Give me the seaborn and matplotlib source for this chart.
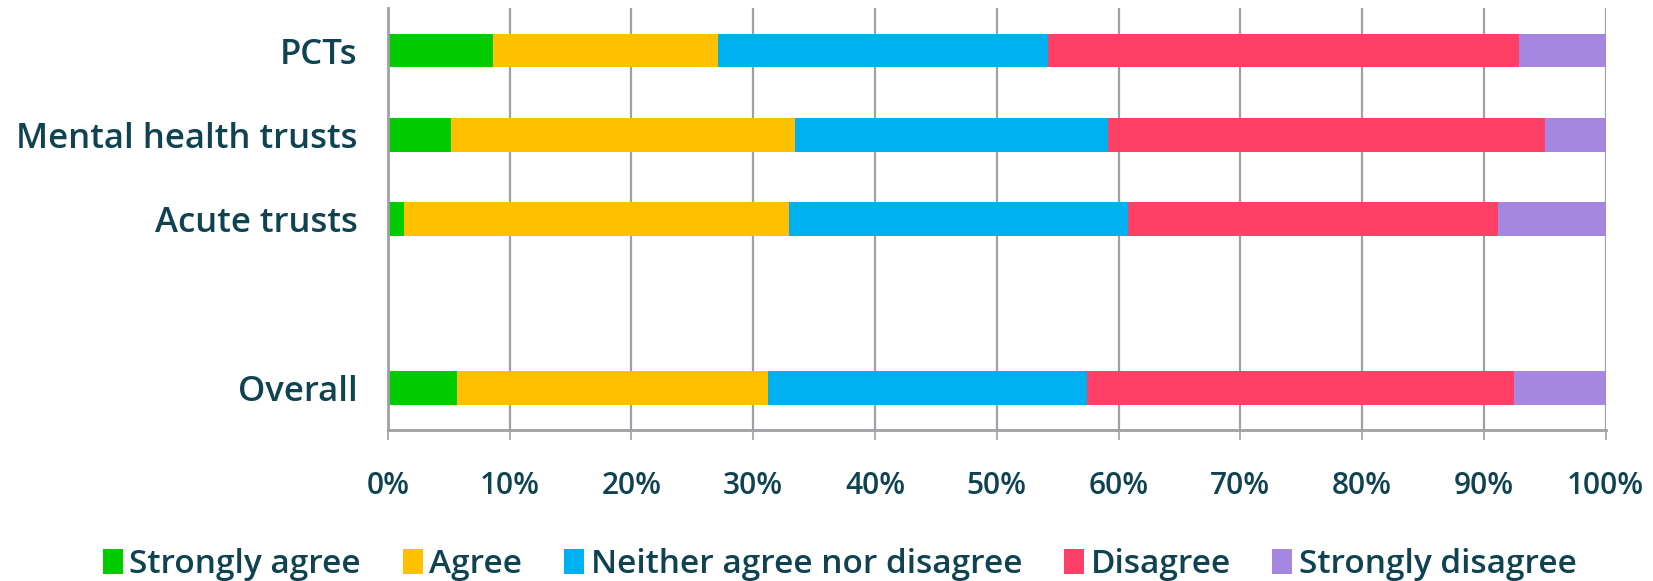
import matplotlib
matplotlib.use("Agg")
import matplotlib.pyplot as plt
import seaborn as sns
import pandas as pd
import numpy as np
from matplotlib.patches import Patch
from matplotlib.ticker import FixedLocator

categories = ["PCTs", "Mental health trusts", "Acute trusts", "Overall"]
order = ["PCTs", "Mental health trusts", "Acute trusts", " ", "Overall"]
series = ["Strongly agree", "Agree", "Neither agree nor disagree", "Disagree", "Strongly disagree"]
strongly_agree = [8.6, 5.2, 1.3, 5.7]
agree = [18.5, 28.2, 31.6, 25.5]
neither = [27.1, 25.7, 27.9, 26.2]
disagree = [38.7, 35.9, 30.4, 35.1]
strongly_disagree = [7.1, 5.0, 8.8, 7.5]
colors = ["#00CC00", "#FFC000", "#00B0F0", "#FF4066", "#A586E0"]
xticklabels = ["0%", "10%", "20%", "30%", "40%", "50%", "60%", "70%", "80%", "90%", "100%"]

text_color = "#0F4352"
grid_color = "#9EA1A4"

sns.set_style("white")
plt.rcParams["font.family"] = ["Open Sans", "DejaVu Sans"]
plt.rcParams["font.weight"] = "semibold"

df = pd.DataFrame({
    "cat": categories,
    "Strongly agree": strongly_agree,
    "Agree": agree,
    "Neither agree nor disagree": neither,
    "Disagree": disagree,
    "Strongly disagree": strongly_disagree,
})
cum = df[series].cumsum(axis=1)
cum["cat"] = df["cat"]

fig = plt.figure(figsize=(16.53, 5.81), dpi=100)
ax = fig.add_axes([0.2347, 0.260, 0.9713 - 0.2347, 0.9855 - 0.260])

for s, c in reversed(list(zip(series, colors))):
    sns.barplot(data=cum, x=s, y="cat", order=order, orient="h", color=c,
                width=0.4, saturation=1, ax=ax, zorder=2, linewidth=0)

ax.set_xlim(0, 100)
ax.set_ylim(4.5, -0.5)
ax.set_xlabel("")
ax.set_ylabel("")
ax.set_xticks(np.arange(0, 101, 10))
ax.set_xticklabels(xticklabels)
ax.xaxis.grid(True, color=grid_color, linewidth=1.6, zorder=0)
ax.yaxis.grid(False)
ax.set_axisbelow(True)

ax.yaxis.set_minor_locator(FixedLocator(np.arange(-0.5, 4.6, 1.0)))
ax.tick_params(axis="y", which="major", length=0, pad=22, labelsize=25, labelcolor=text_color)
ax.tick_params(axis="y", which="minor", length=7.5, width=1.6, color=grid_color, direction="out")
ax.tick_params(axis="x", which="major", length=7.5, width=1.2, color=grid_color, pad=22,
               labelsize=21.5, labelcolor=text_color, bottom=True)

for side in ["top", "right"]:
    ax.spines[side].set_visible(False)
for side in ["left", "bottom"]:
    ax.spines[side].set_color(grid_color)
    ax.spines[side].set_linewidth(2.0)

handles = [Patch(facecolor=c, edgecolor="none", label=s) for s, c in zip(series, colors)]
fig.legend(handles=handles, loc="center", bbox_to_anchor=(0.508, 0.028), ncol=5,
           frameon=False, fontsize=24, handlelength=0.6, handleheight=0.75,
           handletextpad=0.2, columnspacing=1.25, labelcolor=text_color)

fig.savefig("out.png", dpi=100)
